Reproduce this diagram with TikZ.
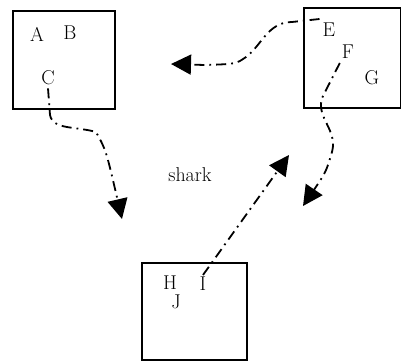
\documentclass[tikz,border=0pt]{standalone}
\usetikzlibrary{arrows.meta}
\begin{document}
\begin{tikzpicture}[x=1pt,y=-1pt,
  lbl/.style={font=\fontsize{20}{24}\selectfont, inner sep=0pt},
  box/.style={draw, line width=1.5pt, inner sep=0pt, anchor=north west},
  conn/.style={line width=1.8pt, dash pattern=on 10pt off 5pt on 1.8pt off 5pt,
    -{Triangle[length=20pt,width=20pt]}}]
\useasboundingbox (0,0) rectangle (401,360);
% boxes
\node[box, minimum width=102pt, minimum height=98pt] (b1) at (12,10) {};
\node[box, minimum width=97pt, minimum height=100pt] (b2) at (303,7) {};
\node[box, minimum width=105pt, minimum height=97pt] (b3) at (141,262) {};
% labels
\node[lbl] (A) at (37,34) {A};
\node[lbl] (B) at (70,33) {B};
\node[lbl] (C) at (48,78) {C};
\node[lbl] (E) at (329,30) {E};
\node[lbl] (F) at (348,52) {F};
\node[lbl] (G) at (372,78) {G};
\node[lbl] (H) at (170,283) {H};
\node[lbl] (I) at (203,284) {I};
\node[lbl] (J) at (176,302) {J};
\node[lbl] (shark) at (190,175) {shark};
% connectors
\coordinate (t1) at (122,219);
\coordinate (t2) at (171,64);
\coordinate (t3) at (303,206);
\coordinate (t4) at (289,155);
\draw[conn] ([yshift=-3pt]C.south) -- (50,115) .. controls (53,130) and (75,126) .. (96,132) .. controls (106,150) .. (t1);
\draw[conn] ([shift={(-3pt,4pt)}]E.north west) -- (292,22) .. controls (268,22) and (262,45) .. (246,57) .. controls (236,64) .. (205,65) -- (t2);
\draw[conn] ([shift={(-2pt,-4pt)}]F.south west) -- (322,98) .. controls (316,118) and (338,130) .. (332,152) .. controls (326,172) .. (t3);
\draw[conn] ([yshift=2pt]I.north) -- (t4);
\end{tikzpicture}
\end{document}
